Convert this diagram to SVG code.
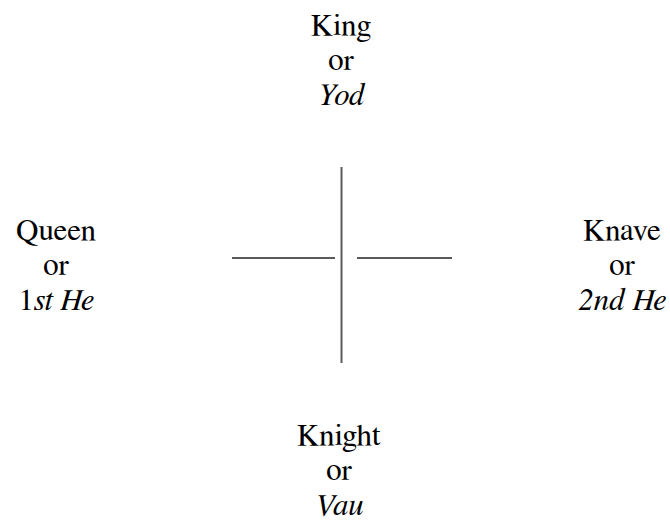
<svg xmlns="http://www.w3.org/2000/svg" width="670" height="523" viewBox="0 0 670 523">
<style>
text{font-size:31px;fill:#000;text-anchor:middle}
.i{font-style:italic}
.ln{stroke:#5a5a5a;stroke-width:2;fill:none}
</style>
<rect width="670" height="523" fill="#fff"/>
<g id="connectors">
<line class="ln" x1="341.5" y1="167" x2="341.5" y2="363"/>
<line class="ln" x1="232" y1="258" x2="335" y2="258"/>
<line class="ln" x1="357" y1="258" x2="452" y2="258"/>
</g>
<g id="king" font-family="Nimbus Roman, FreeSerif, Tinos">
<text x="341" y="35">King</text>
<text x="341" y="70">or</text>
<text x="341" y="105" class="i">Yod</text>
</g>
<g id="queen" font-family="Nimbus Roman, FreeSerif, Tinos">
<text x="56" y="240">Queen</text>
<text x="56" y="275">or</text>
<text x="56" y="310">1<tspan class="i">st He</tspan></text>
</g>
<g id="knave" font-family="Nimbus Roman, FreeSerif, Tinos">
<text x="622" y="240">Knave</text>
<text x="622" y="275">or</text>
<text x="622" y="310" class="i">2nd He</text>
</g>
<g id="knight" font-family="Nimbus Roman, FreeSerif, Tinos">
<text x="339" y="445">Knight</text>
<text x="339" y="480">or</text>
<text x="339" y="515" class="i">Vau</text>
</g>
</svg>
